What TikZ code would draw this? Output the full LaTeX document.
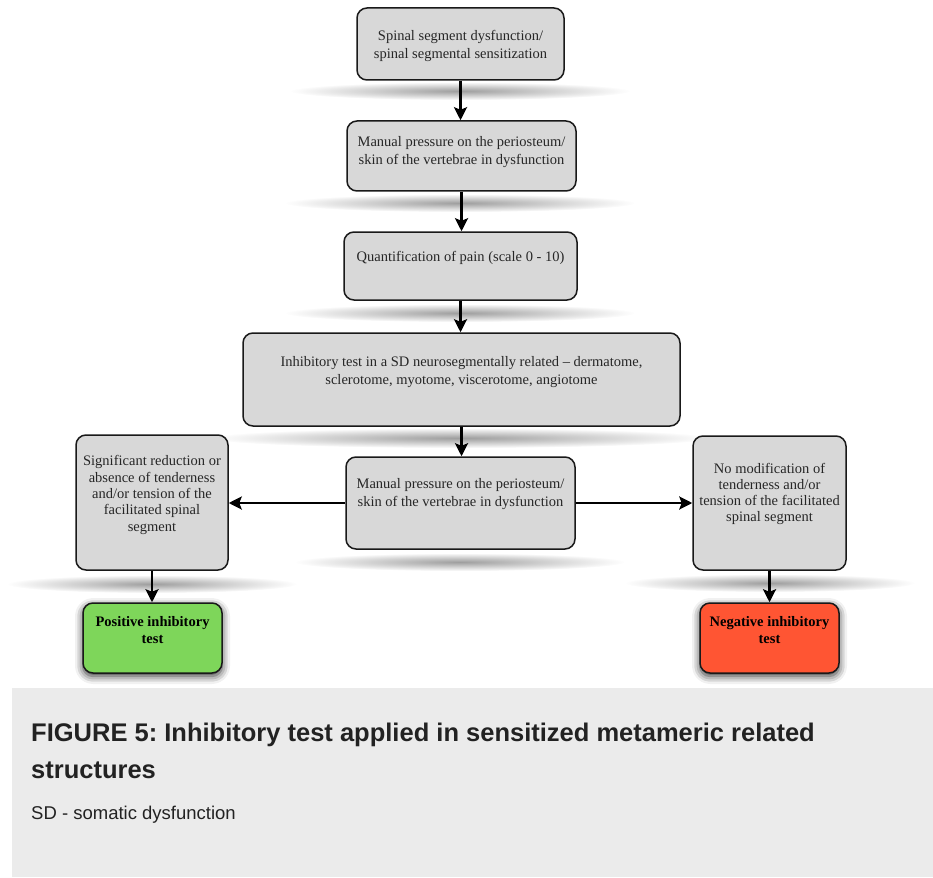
\documentclass[tikz,border=0pt]{standalone}
\usepackage{fontspec}
\setmainfont{Liberation Serif}
\newfontfamily\capfont{Liberation Sans}
\usetikzlibrary{arrows.meta,shadows.blur,fadings}
\definecolor{boxgray}{HTML}{D8D8D8}
\definecolor{capbg}{HTML}{EBEBEB}
\definecolor{captext}{HTML}{222222}
\definecolor{posgreen}{HTML}{7ED65A}
\definecolor{negred}{HTML}{FF5533}
\tikzfading[name=fuzzyspot, inner color=transparent!0, outer color=transparent!100]
\frenchspacing
\begin{document}
\begin{tikzpicture}[x=1pt,y=-1pt,
  box/.style={draw=black!90, line width=1.5pt, rounded corners=10pt, fill=boxgray, inner sep=0pt},
  resbox/.style={box, blur shadow={shadow xshift=0pt, shadow yshift=-3pt, shadow blur radius=8pt, shadow opacity=85}},
  txt/.style={align=center, font=\fontsize{14.5}{17.5}\selectfont, inner sep=0pt, text=black!85},
  bold/.style={txt, font=\bfseries\fontsize{14.5}{16.5}\selectfont, text=black},
  conn/.style={line width=2.5pt, -{Stealth[length=13pt,width=13pt,inset=2.5pt]}},
  spot/.style={fill=black!38, path fading=fuzzyspot},
  captitle/.style={anchor=base west, inner sep=0pt, text=captext, font=\capfont\bfseries\fontsize{25.5}{30}\selectfont},
  capnote/.style={anchor=base west, inner sep=0pt, text=captext, font=\capfont\fontsize{18.5}{22}\selectfont}]
\useasboundingbox (0,0) rectangle (933,877);
% soft shadows beneath the boxes
\fill[spot] (460,91) ellipse (170 and 9);
\fill[spot] (460,203) ellipse (175 and 9);
\fill[spot] (460,313) ellipse (175 and 9);
\fill[spot] (460,438) ellipse (250 and 10);
\fill[spot] (460,562) ellipse (165 and 9);
\fill[spot] (152,584) ellipse (145 and 9);
\fill[spot] (770,583) ellipse (145 and 9);
% boxes
\node[box, minimum width=207pt, minimum height=72pt] (A) at (460.5,44) {};
\node[txt] (At) at (460.5,46) {Spinal segment dysfunction/\\spinal segmental sensitization};
\node[box, minimum width=229pt, minimum height=70pt] (B) at (461.5,156) {};
\node[txt] (Bt) at (461.5,152) {Manual pressure on the periosteum/\\skin of the vertebrae in dysfunction};
\node[box, minimum width=233pt, minimum height=68pt] (C) at (460.5,266) {};
\node[txt] (Ct) at (460.5,258) {Quantification of pain (scale 0 - 10)};
\node[box, minimum width=437pt, minimum height=93pt] (D) at (461.5,379.5) {};
\node[txt] (Dt) at (461.5,372) {Inhibitory test in a SD neurosegmentally related -- dermatome,\\sclerotome, myotome, viscerotome, angiotome};
\node[box, minimum width=229pt, minimum height=92pt] (E) at (460.5,503) {};
\node[txt] (Et) at (460.5,494) {Manual pressure on the periosteum/\\skin of the vertebrae in dysfunction};
\node[box, minimum width=152pt, minimum height=135pt] (L) at (152,502.5) {};
\node[txt, font=\fontsize{14.5}{16.3}\selectfont] (Lt) at (152,495) {Significant reduction or\\absence of tenderness\\and/or tension of the\\facilitated spinal\\segment};
\node[box, minimum width=153pt, minimum height=134pt] (R) at (769.5,503) {};
\node[txt, font=\fontsize{14.5}{16.3}\selectfont] (Rt) at (769.5,494) {No modification of\\tenderness and/or\\tension of the facilitated\\spinal segment};
\node[resbox, fill=posgreen, minimum width=139pt, minimum height=70pt] (P) at (152.5,638) {};
\node[bold] (Pt) at (152.5,630) {Positive inhibitory\\test};
\node[resbox, fill=negred, minimum width=139pt, minimum height=70pt] (N) at (769.5,638) {};
\node[bold] (Nt) at (769.5,630) {Negative inhibitory\\test};
% connectors
\draw[conn] (A.south) -- (A.south |- B.north);
\draw[conn] (B.south) -- (B.south |- C.north);
\draw[conn] (C.south) -- (C.south |- D.north);
\draw[conn] (D.south) -- (D.south |- E.north);
\draw[conn] (E.west) -- (E.west -| L.east);
\draw[conn] (E.east) -- (E.east -| R.west);
\draw[conn] (L.south) -- (L.south |- P.north);
\draw[conn] (R.south) -- (R.south |- N.north);
% caption
\fill[capbg] (12,688) rectangle (933,877);
\node[captitle] (cap1) at (31,741) {FIGURE 5: Inhibitory test applied in sensitized metameric related};
\node[captitle] (cap2) at (31,778) {structures};
\node[capnote] (cap3) at (31,819) {SD - somatic dysfunction};
\end{tikzpicture}
\end{document}
